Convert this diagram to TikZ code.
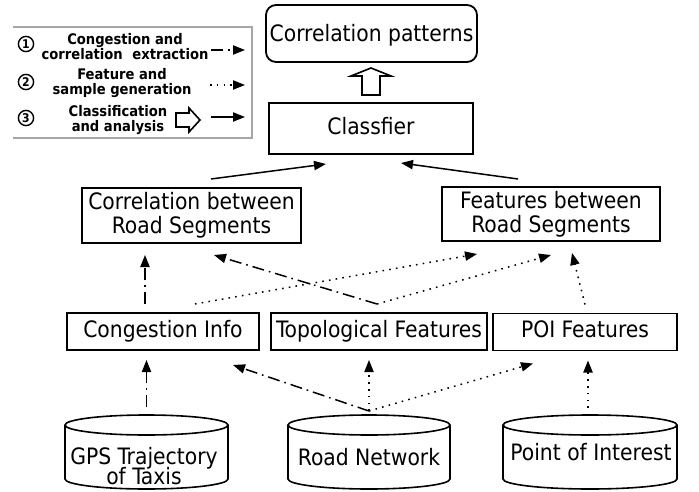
\documentclass[tikz,border=0pt]{standalone}
\usepackage{fontspec}
\setmainfont{DejaVu Sans Condensed}
\usetikzlibrary{arrows.meta,calc}
\newcommand\tightlines{\lineskiplimit=-20pt\relax}

\begin{document}
\begin{tikzpicture}[x=0.5pt,y=-0.5pt,
  every node/.style={inner sep=0pt, outer sep=0pt},
  mainfont/.style={font=\fontsize{11.3}{12}\selectfont},
  box/.style={draw, line width=0.9pt, mainfont, text height=8.6pt, text depth=2.7pt},
  tallbox/.style={draw, line width=0.9pt, mainfont, align=center},
  cyl/.style={line width=0.8pt},
  cyltext/.style={mainfont, align=center},
  tipstyle/.style={-{Triangle[length=6pt,width=4.6pt]}},
  ddline/.style={tipstyle, line width=0.75pt, dash pattern=on 6pt off 2.5pt on 0.8pt off 2.5pt},
  dotline/.style={tipstyle, line width=0.75pt, dash pattern=on 0.8pt off 2.6pt},
  solidline/.style={tipstyle, line width=0.75pt},
  hollow/.style={line width=0.8pt, line join=miter},
  numc/.style={circle, draw, line width=0.7pt, minimum size=7.6pt, font={\fontsize{6}{6}\bfseries\selectfont}},
  legtext/.style={align=center, font={\fontsize{7.3}{7.5}\bfseries\selectfont\tightlines}},
  frame/.style={draw=gray!70, line width=0.6pt}
]
\useasboundingbox (0,0) rectangle (699,491);

% ---------- legend ----------
\draw[frame] (13,27) -- (252,27) -- (252,138) -- (13,138);
\node[numc] (n1) at (26,44) {1};
\node[numc] (n2) at (26,82) {2};
\node[numc] (n3) at (26,118) {3};
\node[legtext] (t1) at (125,47) {Congestion and\\correlation\hspace{0.35em} extraction};
\node[legtext] (t2) at (122,83) {Feature and\\sample generation};
\node[legtext] (t3) at (118,120) {Classification\\and analysis};
\coordinate (l1a) at (211,50);  \coordinate (l1b) at (245,50);
\coordinate (l2a) at (210,85);  \coordinate (l2b) at (245,85);
\coordinate (l3a) at (211,117); \coordinate (l3b) at (245,117);
\draw[ddline] (l1a) -- (l1b);
\draw[dotline] (l2a) -- (l2b);
\draw[solidline] (l3a) -- (l3b);
\draw[hollow] (176,113) -- (189,113) -- (189,108) -- (200,120) -- (189,132) -- (189,127) -- (176,127) -- cycle;

% ---------- boxes ----------
\node[box, rounded corners=5pt, minimum width=105.5pt, minimum height=28.5pt,
      text depth=1pt] (pat) at (371.5,33.5) {Correlation patterns};
\node[box, minimum width=102pt, minimum height=25.5pt] (cls) at (371,128.5) {Classfier};
\node[tallbox, minimum width=109.5pt, minimum height=27.5pt] (corr) at (191.5,215.5)
      {Correlation between\\Road Segments};
\node[tallbox, minimum width=109pt, minimum height=27pt] (feat) at (551,214)
      {Features between\\Road Segments};
\node[box, minimum width=96pt, minimum height=18.5pt] (cong) at (163,331.5) {Congestion Info};
\node[box, minimum width=108pt, minimum height=18.5pt] (topo) at (379,331.5) {Topological Features};
\node[box, minimum width=92pt, minimum height=18.5pt] (poi) at (585,332) {POI Features};

% ---------- data stores ----------
\draw[cyl] (65,425) -- (65,479) arc[start angle=180, end angle=0, x radius=81.5, y radius=10] -- (228,425);
\draw[cyl] (146.5,425) ellipse [x radius=81.5, y radius=10];
\draw[cyl] (288,425) -- (288,479) arc[start angle=180, end angle=0, x radius=81, y radius=10] -- (450,425);
\draw[cyl] (369,425) ellipse [x radius=81, y radius=10];
\draw[cyl] (503,425) -- (503,479) arc[start angle=180, end angle=0, x radius=87, y radius=10] -- (677,425);
\draw[cyl] (590,425) ellipse [x radius=87, y radius=10];
\coordinate (gpstop) at (146.5,415);
\coordinate (roadtop) at (369,415);
\coordinate (poitop) at (588,415);
\node[cyltext, font={\fontsize{11.3}{10}\selectfont\tightlines}] (gps) at (144,466)
      {GPS Trajectory\\of Taxis};
\node[cyltext, anchor=base] (road) at (369,465) {Road Network};
\node[cyltext, anchor=base] (poidata) at (591,460) {Point of Interest};

% ---------- connectors ----------
\draw[ddline] ($(gpstop)+(0,-8)$) -- ($(gpstop |- cong.south)+(0,10)$);
\draw[ddline] ($(roadtop)+(0,-4)$) -- ($(cong.south)+(70,15)$);
\draw[dotline] ($(roadtop)+(0,-4)$) -- ($(roadtop |- topo.south)+(0,10)$);
\draw[dotline] ($(roadtop)+(0,-4)$) -- ($(poi.south)+(-52,13)$);
\draw[dotline] ($(poitop)+(0,-7)$) -- ($(poitop |- poi.south)+(0,10)$);

\draw[ddline] ($(cong.north)+(-18,-9)$) -- ($(cong.north |- corr.south)+(-18,12)$);
\draw[ddline] ($(topo.north)+(-2,-9)$) -- ($(corr.south)+(22.5,12)$);
\draw[dotline] ($(cong.north)+(32,-9)$) -- ($(feat.south)+(-74,13)$);
\draw[dotline] ($(topo.north)+(-2,-9)$) -- ($(feat.south)+(0,14)$);
\draw[dotline] ($(poi.north)+(0,-9)$) -- ($(feat.south)+(21,12)$);

\draw[solidline] ($(corr.north)+(19.5,-9)$) -- ($(cls.south)+(-45,10)$);
\draw[solidline] ($(feat.north)+(-33,-8)$) -- ($(cls.south)+(30,9)$);

\draw[hollow] ($(cls.north)+(-9,-8)$) -- ++(0,-19) -- ++(-11,0) -- ++(20,-8)
      -- ++(20,8) -- ++(-11,0) -- ++(0,19) -- cycle;
\end{tikzpicture}
\end{document}
